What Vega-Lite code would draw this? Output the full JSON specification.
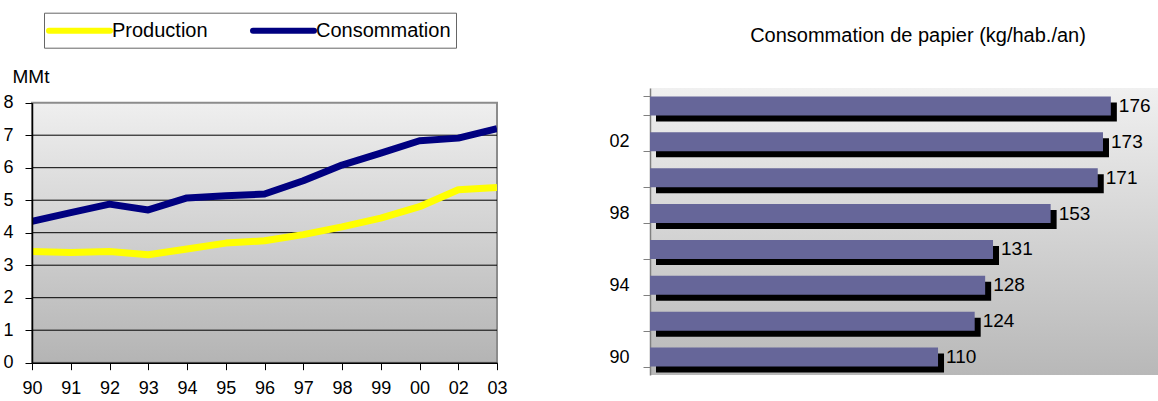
{
  "$schema": "https://vega.github.io/schema/vega-lite/v6.json",
  "background": "white",
  "padding": {"left": 2, "top": 12, "right": 0, "bottom": 0},
  "spacing": 100,
  "config": {
    "font": "Liberation Sans",
    "axis": {"labelFont": "Liberation Sans", "titleFont": "Liberation Sans", "labelColor": "#000", "titleColor": "#000"},
    "legend": {"labelFont": "Liberation Sans"},
    "title": {"font": "Liberation Sans"}
  },
  "datasets": {
    "mmt": [
      {"annee": "90", "serie": "Production", "valeur": 3.42},
      {"annee": "91", "serie": "Production", "valeur": 3.39},
      {"annee": "92", "serie": "Production", "valeur": 3.42},
      {"annee": "93", "serie": "Production", "valeur": 3.32},
      {"annee": "94", "serie": "Production", "valeur": 3.50},
      {"annee": "95", "serie": "Production", "valeur": 3.68},
      {"annee": "96", "serie": "Production", "valeur": 3.75},
      {"annee": "97", "serie": "Production", "valeur": 3.94},
      {"annee": "98", "serie": "Production", "valeur": 4.18},
      {"annee": "99", "serie": "Production", "valeur": 4.45},
      {"annee": "00", "serie": "Production", "valeur": 4.80},
      {"annee": "02", "serie": "Production", "valeur": 5.32},
      {"annee": "03", "serie": "Production", "valeur": 5.39},
      {"annee": "90", "serie": "Consommation", "valeur": 4.35},
      {"annee": "91", "serie": "Consommation", "valeur": 4.62},
      {"annee": "92", "serie": "Consommation", "valeur": 4.88},
      {"annee": "93", "serie": "Consommation", "valeur": 4.70},
      {"annee": "94", "serie": "Consommation", "valeur": 5.07},
      {"annee": "95", "serie": "Consommation", "valeur": 5.14},
      {"annee": "96", "serie": "Consommation", "valeur": 5.19},
      {"annee": "97", "serie": "Consommation", "valeur": 5.60},
      {"annee": "98", "serie": "Consommation", "valeur": 6.08},
      {"annee": "99", "serie": "Consommation", "valeur": 6.45},
      {"annee": "00", "serie": "Consommation", "valeur": 6.83},
      {"annee": "02", "serie": "Consommation", "valeur": 6.91},
      {"annee": "03", "serie": "Consommation", "valeur": 7.20}
    ],
    "grille": [
      {"niveau": 1}, {"niveau": 2}, {"niveau": 3}, {"niveau": 4}, {"niveau": 5}, {"niveau": 6}, {"niveau": 7}
    ],
    "papier": [
      {"annee": "90", "kg": 110},
      {"annee": "92", "kg": 124},
      {"annee": "94", "kg": 128},
      {"annee": "96", "kg": 131},
      {"annee": "98", "kg": 153},
      {"annee": "00", "kg": 171},
      {"annee": "02", "kg": 173},
      {"annee": "03", "kg": 176}
    ]
  },
  "hconcat": [
    {
      "width": 465,
      "height": 274.7,
      "view": {"fill": null, "stroke": null},
      "layer": [
        {
          "data": {"name": "mmt"},
          "transform": [{"filter": "datum.serie == 'Production'"}],
          "mark": {
            "type": "area",
            "fill": {"gradient": "linear", "x1": 0, "y1": 0, "x2": 0, "y2": 1, "stops": [{"offset": 0, "color": "#efefef"}, {"offset": 1, "color": "#b4b4b4"}]},
            "stroke": "#8c8c8c", "strokeWidth": 2, "fillOpacity": 1
          },
          "encoding": {
            "x": {
              "field": "annee", "type": "ordinal",
              "sort": ["90", "91", "92", "93", "94", "95", "96", "97", "98", "99", "00", "02", "03"],
              "scale": {"type": "point", "padding": 0, "domain": ["90", "91", "92", "93", "94", "95", "96", "97", "98", "99", "00", "02", "03"]},
              "axis": {"title": null, "labelAngle": 0, "labelFontSize": 18, "labelPadding": 10, "tickSize": 7, "tickColor": "#000", "domainColor": "#000", "domainWidth": 1.5, "grid": false, "zindex": 1}
            },
            "y": {
              "datum": 8, "type": "quantitative",
              "scale": {"domain": [0, 8], "nice": false, "zero": true, "range": [274.7, 14.7]},
              "axis": {
                "values": [0, 1, 2, 3, 4, 5, 6, 7, 8],
                "title": "MMt", "titleAngle": 0, "titleFontSize": 19, "titleFontWeight": "normal",
                "titleAlign": "left", "titleBaseline": "alphabetic", "titleX": -20, "titleY": -5.3,
                "labelFontSize": 18, "labelPadding": 12, "tickSize": 7, "tickColor": "#000",
                "domainColor": "#000", "domainWidth": 1.5, "grid": false, "zindex": 1
              }
            },
            "y2": {"datum": 0}
          }
        },
        {
          "data": {"name": "grille"},
          "mark": {"type": "rule", "color": "#000", "strokeWidth": 1},
          "encoding": {
            "y": {
              "field": "niveau", "type": "quantitative",
              "scale": {"domain": [0, 8], "nice": false, "zero": true, "range": [274.7, 14.7]},
              "axis": {
                "values": [0, 1, 2, 3, 4, 5, 6, 7, 8],
                "title": "MMt", "titleAngle": 0, "titleFontSize": 19, "titleFontWeight": "normal",
                "titleAlign": "left", "titleBaseline": "alphabetic", "titleX": -20, "titleY": -5.3,
                "labelFontSize": 18, "labelPadding": 12, "tickSize": 7, "tickColor": "#000",
                "domainColor": "#000", "domainWidth": 1.5, "grid": false, "zindex": 1
              }
            }
          }
        },
        {
          "data": {"name": "mmt"},
          "mark": {"type": "line", "strokeWidth": 7, "clip": true, "strokeJoin": "round"},
          "encoding": {
            "x": {
              "field": "annee", "type": "ordinal",
              "sort": ["90", "91", "92", "93", "94", "95", "96", "97", "98", "99", "00", "02", "03"],
              "scale": {"type": "point", "padding": 0, "domain": ["90", "91", "92", "93", "94", "95", "96", "97", "98", "99", "00", "02", "03"]},
              "axis": {"title": null, "labelAngle": 0, "labelFontSize": 18, "labelPadding": 10, "tickSize": 7, "tickColor": "#000", "domainColor": "#000", "domainWidth": 1.5, "grid": false, "zindex": 1}
            },
            "y": {
              "field": "valeur", "type": "quantitative",
              "scale": {"domain": [0, 8], "nice": false, "zero": true, "range": [274.7, 14.7]},
              "axis": {
                "values": [0, 1, 2, 3, 4, 5, 6, 7, 8],
                "title": "MMt", "titleAngle": 0, "titleFontSize": 19, "titleFontWeight": "normal",
                "titleAlign": "left", "titleBaseline": "alphabetic", "titleX": -20, "titleY": -5.3,
                "labelFontSize": 18, "labelPadding": 12, "tickSize": 7, "tickColor": "#000",
                "domainColor": "#000", "domainWidth": 1.5, "grid": false, "zindex": 1
              }
            },
            "color": {
              "field": "serie", "type": "nominal",
              "scale": {"domain": ["Production", "Consommation"], "range": ["#ffff00", "#000080"]},
              "legend": {
                "title": null, "orient": "none", "legendX": 12, "legendY": -75.3, "direction": "horizontal",
                "symbolType": "M-1.3,0L4.8,0", "symbolStrokeWidth": 6, "symbolSize": 400,
                "labelFontSize": 20, "labelOffset": 37, "columnPadding": 33,
                "strokeColor": "#666", "padding": 5, "fillColor": "white",
                "encode": {"symbols": {"update": {"strokeCap": {"value": "round"}}}}
              }
            }
          }
        }
      ]
    },
    {
      "width": 536,
      "height": 287,
      "data": {"name": "papier"},
      "title": {"text": "Consommation de papier (kg/hab./an)", "fontSize": 20, "fontWeight": "normal", "anchor": "middle", "offset": 33, "color": "#000"},
      "view": {
        "fill": {"gradient": "linear", "x1": 0, "y1": 0, "x2": 0, "y2": 1, "stops": [{"offset": 0, "color": "#f0f0f0"}, {"offset": 1, "color": "#b8b8b8"}]},
        "stroke": null
      },
      "encoding": {
        "y": {
          "field": "annee", "type": "ordinal",
          "sort": ["03", "02", "00", "98", "96", "94", "92", "90"],
          "scale": {"type": "band", "paddingInner": 0.47, "paddingOuter": 0.235},
          "axis": {
            "title": null, "tickBand": "extent", "tickSize": 7, "tickColor": "#808080",
            "domainColor": "#808080", "domainWidth": 1.5, "labelFontSize": 18, "labelPadding": 14,
            "labelExpr": "indexof(['90','94','98','02'], datum.value) >= 0 ? datum.value : ''"
          }
        },
        "x": {
          "field": "kg", "type": "quantitative",
          "scale": {"domain": [0, 204.7], "nice": false},
          "axis": null
        }
      },
      "layer": [
        {"mark": {"type": "bar", "color": "#000", "xOffset": 6, "yOffset": 6}},
        {"mark": {"type": "bar", "color": "#666699"}},
        {"mark": {"type": "text", "align": "left", "baseline": "middle", "dx": 8, "fontSize": 19, "color": "#000"}, "encoding": {"text": {"field": "kg", "type": "quantitative"}}}
      ]
    }
  ]
}
